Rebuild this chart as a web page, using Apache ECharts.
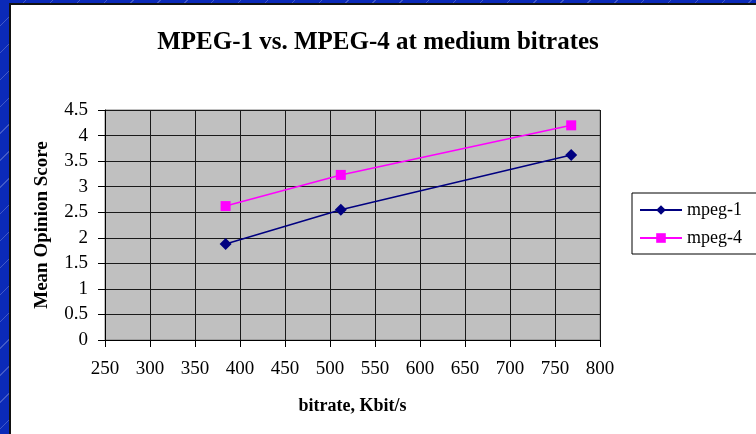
<!DOCTYPE html>
<html>
<head>
<meta charset="utf-8">
<script src="https://cdn.jsdelivr.net/npm/echarts@6/dist/echarts.min.js"></script>
<style>
  html, body { margin: 0; padding: 0; }
  body {
    width: 756px; height: 434px; overflow: hidden; position: relative;
    background-color: #0b2ab8;
    background-image: repeating-linear-gradient(135deg, rgba(255,255,255,0) 0px, rgba(255,255,255,0) 18px, rgba(255,255,255,0.22) 18px, rgba(255,255,255,0.22) 19px);
  }
  #panel {
    position: absolute; left: 9px; top: 3px; width: 747px; height: 431px;
    background: #fff; border-top: 2px solid #111; border-left: 2px solid #111;
    box-sizing: border-box;
  }
  #chart { position: absolute; left: 0; top: 0; width: 756px; height: 434px; }
</style>
</head>
<body>
<div id="panel"></div>
<div id="chart"></div>
<script>
// Bitrates (Kbit/s) at which both codecs were rated
const bitrates = [384, 512, 768];
// Mean opinion scores per codec
const mpeg1Scores = [1.88, 2.55, 3.62];
const mpeg4Scores = [2.62, 3.23, 4.2];
const seriesNames = ['mpeg-1', 'mpeg-4'];

const serif = '"Liberation Serif", "Times New Roman", serif';

const chart = echarts.init(document.getElementById('chart'), null, { renderer: 'canvas' });

const pairs = (ys) => bitrates.map((x, i) => [x, ys[i]]);

chart.setOption({
  backgroundColor: 'transparent',
  animation: false,
  title: {
    text: 'MPEG-1 vs. MPEG-4 at medium bitrates',
    left: 'center', top: 25,
    textStyle: { fontFamily: serif, fontWeight: 'bold', fontSize: 25, color: '#000' }
  },
  legend: {
    orient: 'vertical',
    left: 632, top: 193,
    padding: [8, 60, 7, 7],
    borderColor: '#000', borderWidth: 1,
    itemWidth: 42, itemHeight: 12, itemGap: 10,
    textStyle: { fontFamily: serif, fontSize: 18, color: '#000' },
    data: seriesNames
  },
  grid: {
    left: 105, right: 156, top: 110, bottom: 94,
    show: true, backgroundColor: '#c0c0c0', borderColor: '#808080', borderWidth: 1
  },
  xAxis: {
    type: 'value', min: 250, max: 800, interval: 50,
    name: 'bitrate, Kbit/s', nameLocation: 'middle', nameGap: 57,
    nameTextStyle: { fontFamily: serif, fontWeight: 'bold', fontSize: 18, color: '#000' },
    axisLine: { show: true, lineStyle: { color: '#000', width: 1 } },
    axisTick: { show: true, length: 7, lineStyle: { color: '#000' } },
    axisLabel: { fontFamily: serif, fontSize: 19, color: '#000', margin: 20 },
    splitLine: { show: true, lineStyle: { color: '#1a1a1a', width: 1 } }
  },
  yAxis: {
    type: 'value', min: 0, max: 4.5, interval: 0.5,
    name: 'Mean Opinion Score', nameLocation: 'middle', nameGap: 53, nameRotate: 90,
    nameTextStyle: { fontFamily: serif, fontWeight: 'bold', fontSize: 19, color: '#000' },
    axisLine: { show: true, lineStyle: { color: '#000', width: 1 } },
    axisTick: { show: true, length: 7, lineStyle: { color: '#000' } },
    axisLabel: { fontFamily: serif, fontSize: 19, color: '#000', margin: 17 },
    splitLine: { show: true, lineStyle: { color: '#1a1a1a', width: 1 } }
  },
  series: [
    {
      name: seriesNames[0], type: 'line', data: pairs(mpeg1Scores),
      symbol: 'diamond', symbolSize: 12,
      itemStyle: { color: '#000080' },
      lineStyle: { color: '#000080', width: 1.5 }
    },
    {
      name: seriesNames[1], type: 'line', data: pairs(mpeg4Scores),
      symbol: 'rect', symbolSize: 10,
      itemStyle: { color: '#ff00ff' },
      lineStyle: { color: '#ff00ff', width: 1.5 }
    }
  ]
});
</script>
</body>
</html>
